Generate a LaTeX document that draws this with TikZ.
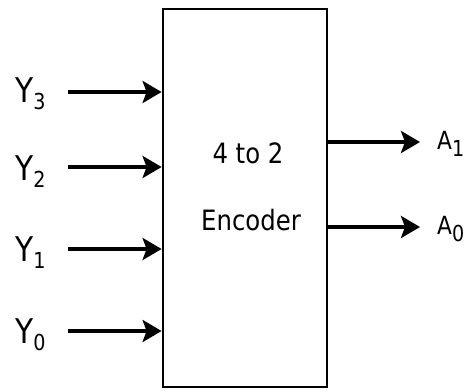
\documentclass[tikz,border=0pt]{standalone}
\usepackage{fontspec}
\setmainfont{DejaVu Sans}[FakeStretch=0.87]
\usetikzlibrary{arrows.meta}
\newcommand{\lbl}[3]{\fontsize{#1}{#1}\selectfont #2\raisebox{-7pt}{\fontsize{22}{22}\selectfont #3}}
\tikzset{
  blk/.style={draw, line width=2.8pt, minimum width=164pt, minimum height=378pt, inner sep=0},
  sig/.style={line width=3.6pt, -{Stealth[length=19pt,width=22pt,inset=4pt]}},
  ylab/.style={anchor=base west, inner sep=0},
  boxtxt/.style={anchor=base, inner sep=0, font=\fontsize{28}{28}\selectfont}
}
\begin{document}
\begin{tikzpicture}[x=1pt,y=-1pt]
\useasboundingbox (0,0) rectangle (465,391);
\node[blk] (box) at (245,198) {};
\node[boxtxt] (t1) at (248,163) {4 to 2};
\node[boxtxt] (t2) at (251,230) {Encoder};
% inputs
\node[ylab] (y3) at (15,102) {\lbl{34}{Y}{3}};
\node[ylab] (y2) at (15,180) {\lbl{34}{Y}{2}};
\node[ylab] (y1) at (15,261) {\lbl{34}{Y}{1}};
\node[ylab] (y0) at (15,343) {\lbl{34}{Y}{0}};
\coordinate (i3) at (68,92);
\coordinate (i2) at (68,167);
\coordinate (i1) at (68,249);
\coordinate (i0) at (68,331);
\draw[sig] (i3) -- (i3 -| box.west);
\draw[sig] (i2) -- (i2 -| box.west);
\draw[sig] (i1) -- (i1 -| box.west);
\draw[sig] (i0) -- (i0 -| box.west);
% outputs
\coordinate (o1) at (420,142);
\coordinate (o0) at (420,227);
\draw[sig] (o1 -| box.east) -- (o1);
\draw[sig] (o0 -| box.east) -- (o0);
\node[ylab] (a1) at (437,149) {\lbl{25}{A}{1}};
\node[ylab] (a0) at (437,234) {\lbl{25}{A}{0}};
\end{tikzpicture}
\end{document}
